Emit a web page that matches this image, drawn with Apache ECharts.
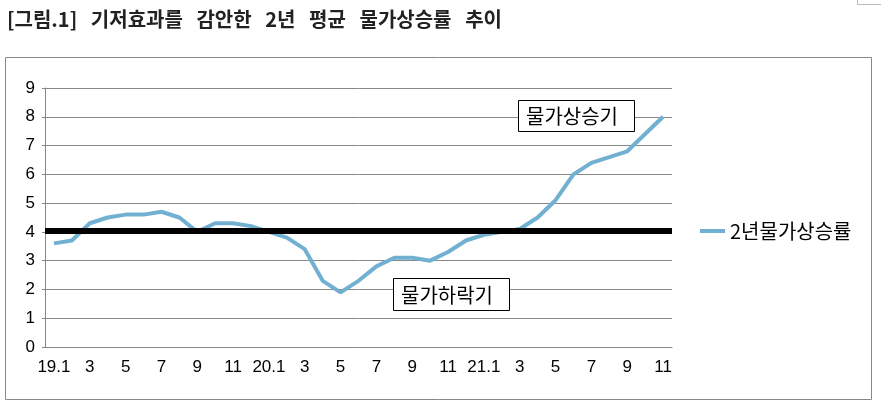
<!DOCTYPE html>
<html>
<head>
<meta charset="utf-8">
<script src="https://cdn.jsdelivr.net/npm/echarts@6/dist/echarts.min.js"></script>
<style>
html,body{margin:0;padding:0;background:#fff;}
#chart{width:881px;height:409px;}
</style>
</head>
<body>
<div id="chart"></div>
<script>
const titleText = '[그림.1]   기저효과를   감안한   2년   평균   물가상승률   추이';
const seriesName = '2년물가상승률';
const categories = ['19.1','2','3','4','5','6','7','8','9','10','11','12',
                    '20.1','2','3','4','5','6','7','8','9','10','11','12',
                    '21.1','2','3','4','5','6','7','8','9','10','11'];
const inflation2y = [3.6,3.7,4.3,4.5,4.6,4.6,4.7,4.5,4.0,4.3,4.3,4.2,
                     4.0,3.8,3.4,2.3,1.9,2.3,2.8,3.1,3.1,3.0,3.3,3.7,
                     3.9,4.0,4.1,4.5,5.1,6.0,6.4,6.6,6.8,7.4,8.0];
const baseline = 4.05;
const yTicks = {min:0, max:9, interval:1};
const noteUp = '물가상승기';
const noteDown = '물가하락기';

const chart = echarts.init(document.getElementById('chart'), null, {renderer:'canvas'});
const cjk = '"Noto Sans CJK KR", "Noto Sans", sans-serif';
const num = '"Liberation Sans", Arial, sans-serif';
chart.setOption({
  animation:false,
  backgroundColor:'#fff',
  title:{
    text:titleText, left:2, top:4,
    textStyle:{fontFamily:cjk, fontSize:20, fontWeight:'bold', color:'#222'}
  },
  grid:{left:45, right:209, top:88, bottom:62, containLabel:false},
  legend:{
    show:true, orient:'vertical', left:695, top:216,
    icon:'rect', itemWidth:25, itemHeight:4,
    textStyle:{fontFamily:cjk, fontSize:20, color:'#000'},
    data:[seriesName]
  },
  xAxis:{
    type:'category', data:categories, boundaryGap:true,
    axisLine:{show:true, lineStyle:{color:'#888', width:1}},
    axisTick:{show:false},
    axisLabel:{interval:1, margin:12, fontFamily:num, fontSize:17, color:'#000'},
    splitLine:{show:false}
  },
  yAxis:{
    type:'value', min:yTicks.min, max:yTicks.max, interval:yTicks.interval,
    axisLine:{show:true, lineStyle:{color:'#888', width:1}},
    axisTick:{show:true, length:3, lineStyle:{color:'#888'}},
    axisLabel:{margin:10, fontFamily:num, fontSize:17, color:'#000'},
    splitLine:{show:true, lineStyle:{color:'#888', width:1}}
  },
  series:[{
    name:seriesName, type:'line', data:inflation2y,
    symbol:'none', smooth:false,
    itemStyle:{color:'#72B0D2'},
    lineStyle:{color:'#72B0D2', width:4},
    markLine:{
      silent:true, symbol:'none', label:{show:false},
      lineStyle:{color:'#000', width:6, type:'solid'},
      data:[{yAxis:baseline}]
    }
  }],
  graphic:[
    {type:'rect', shape:{x:5.5, y:57.5, width:866, height:342}, style:{fill:'none', stroke:'#888', lineWidth:1}, silent:true, z:-1},
    {type:'polyline', shape:{points:[[857.5,0],[857.5,4.5],[881,4.5]]}, style:{fill:'none', stroke:'#bbb', lineWidth:1}, silent:true},
    {type:'rect', shape:{x:518.5, y:100.5, width:116, height:31}, style:{fill:'#fff', stroke:'#000', lineWidth:1}, z:100},
    {type:'text', x:572, y:116.5, style:{text:noteUp, font:'20px "Noto Sans CJK KR"', fill:'#000', align:'center', verticalAlign:'middle'}, z:101},
    {type:'rect', shape:{x:393.5, y:278.5, width:116, height:32}, style:{fill:'#fff', stroke:'#000', lineWidth:1}, z:100},
    {type:'text', x:447, y:295, style:{text:noteDown, font:'20px "Noto Sans CJK KR"', fill:'#000', align:'center', verticalAlign:'middle'}, z:101}
  ]
});
</script>
</body>
</html>
